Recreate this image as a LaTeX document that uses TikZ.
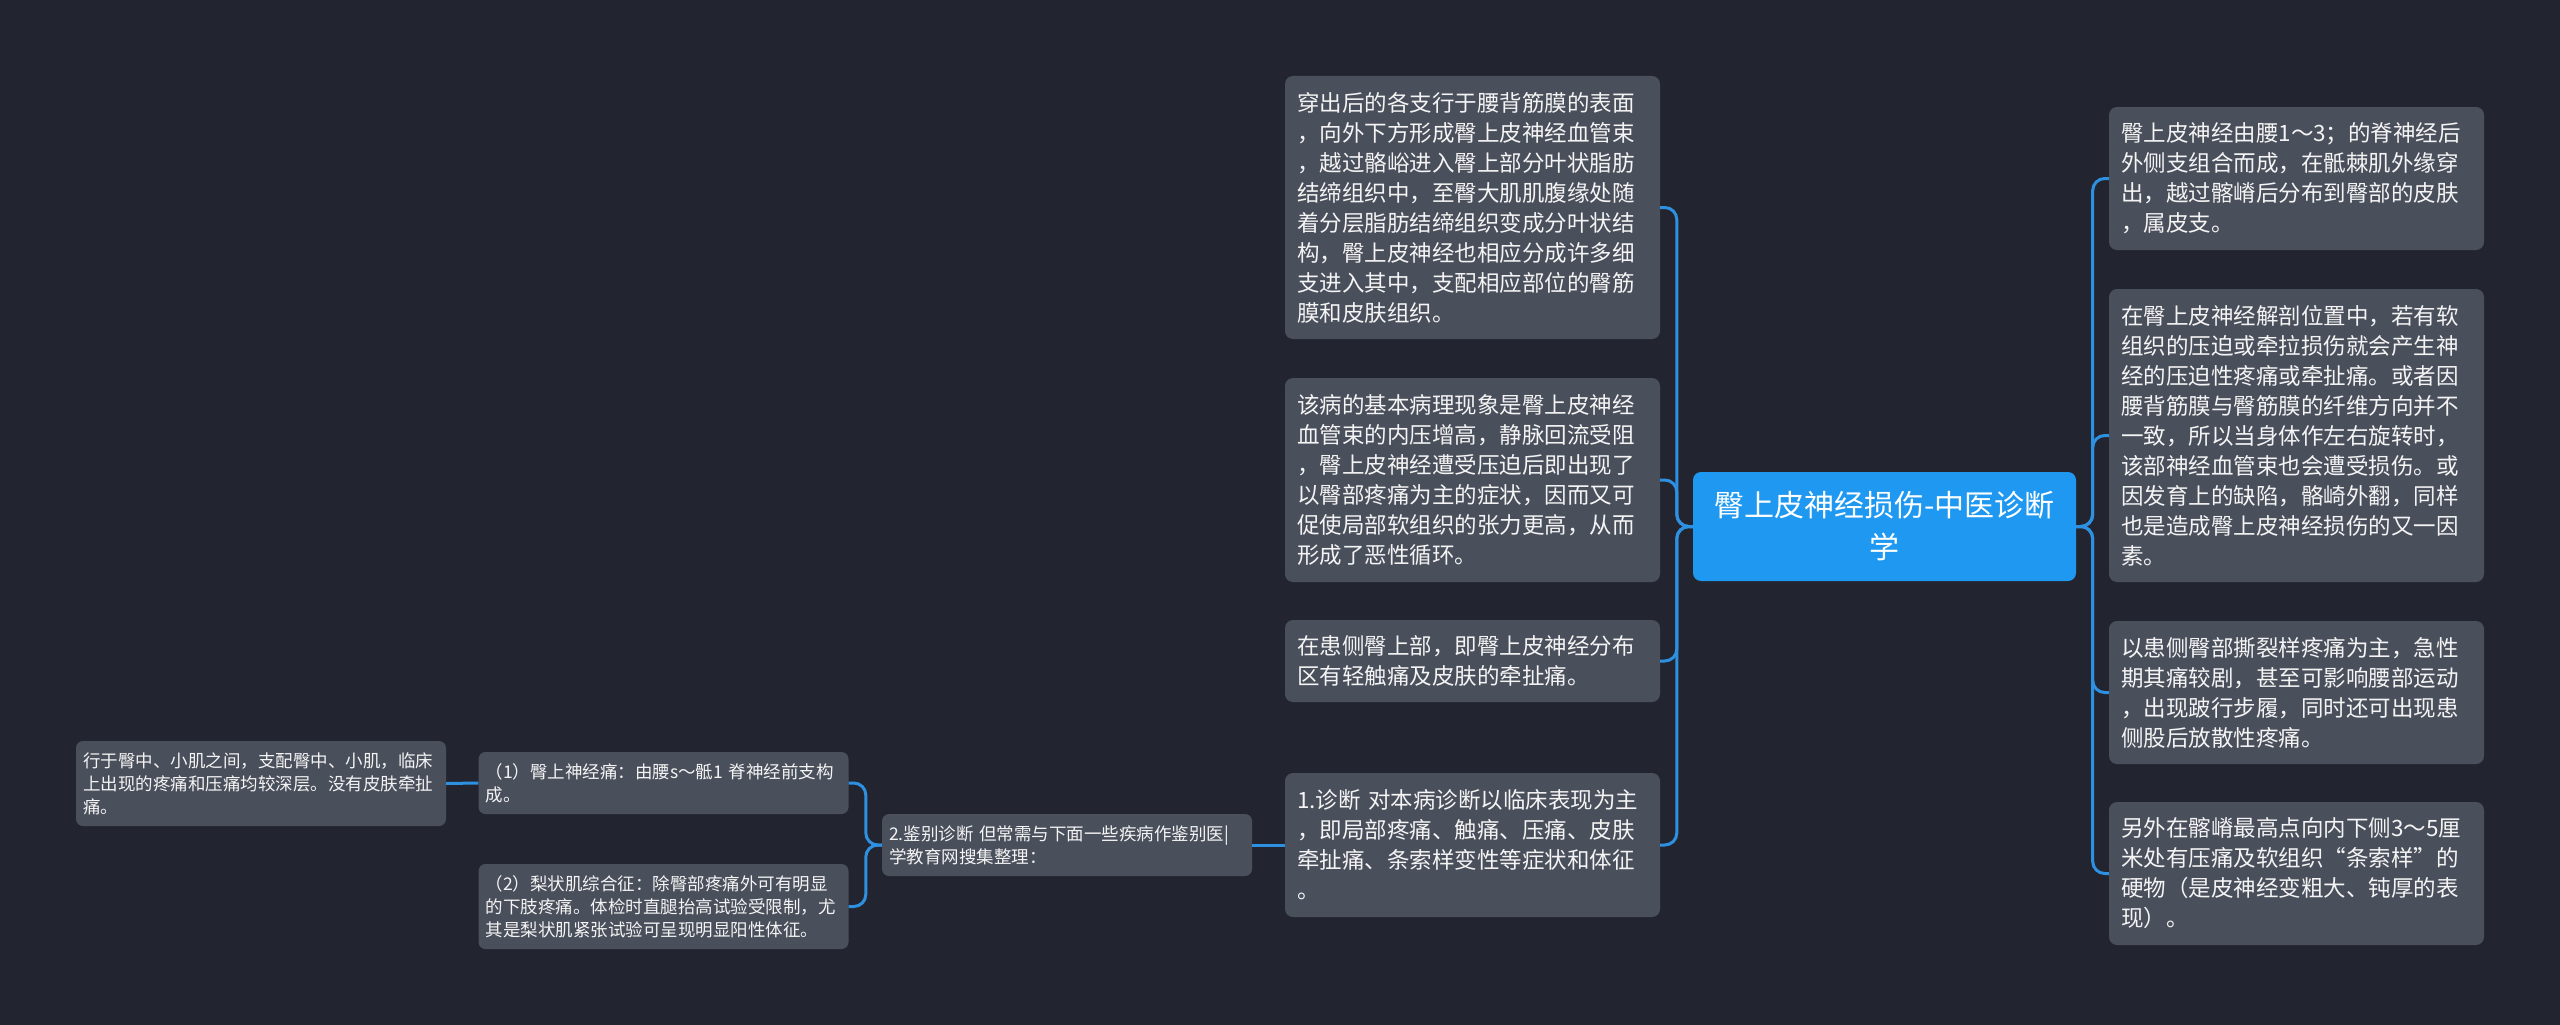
\documentclass[tikz,border=0pt]{standalone}
\usepackage{fontspec}
\setmainfont{Noto Sans CJK SC}
\definecolor{bgc}{HTML}{22252F}
\definecolor{boxc}{HTML}{4A4F5C}
\definecolor{rootc}{HTML}{1E98F0}
\definecolor{linec}{HTML}{2E90E0}
\definecolor{txtc}{HTML}{F4F4F4}
\begin{document}
\begin{tikzpicture}[x=1pt,y=-1pt,
  midbox/.style={fill=boxc, rounded corners=8, text=txtc, align=left,
    inner xsep=12, inner ysep=0, text width=351,
    font=\fontsize{22.5}{30}\selectfont},
  smallbox/.style={fill=boxc, rounded corners=7, text=txtc, align=left,
    inner xsep=7, inner ysep=0, text width=356,
    font=\fontsize{17.5}{23}\selectfont},
  rootbox/.style={fill=rootc, rounded corners=8, text=white, align=center,
    inner xsep=10, inner ysep=0, text width=363,
    font=\fontsize{30}{42}\selectfont},
  conn/.style={draw=linec, line width=3, rounded corners=12}]
\fill[bgc] (0,0) rectangle (2560,1025);
\useasboundingbox (0,0) rectangle (2560,1025);

% root
\node[rootbox, minimum height=109] (c) at (1884.5,526.5)
  {臀上皮神经损伤-中医诊断\\学};

% right column
\node[midbox, minimum height=143] (r1) at (2296.5,178.5)
  {臀上皮神经由腰1～3；的脊神经后\\外侧支组合而成，在骶棘肌外缘穿\\出，越过髂嵴后分布到臀部的皮肤\\，属皮支。};
\node[midbox, minimum height=293] (r2) at (2296.5,435.5)
  {在臀上皮神经解剖位置中，若有软\\组织的压迫或牵拉损伤就会产生神\\经的压迫性疼痛或牵扯痛。或者因\\腰背筋膜与臀筋膜的纤维方向并不\\一致，所以当身体作左右旋转时，\\该部神经血管束也会遭受损伤。或\\因发育上的缺陷，骼崎外翻，同样\\也是造成臀上皮神经损伤的又一因\\素。};
\node[midbox, minimum height=143] (r3) at (2296.5,692.5)
  {以患侧臀部撕裂样疼痛为主，急性\\期其痛较剧，甚至可影响腰部运动\\，出现跛行步履，同时还可出现患\\侧股后放散性疼痛。};
\node[midbox, minimum height=143] (r4) at (2296.5,873.5)
  {另外在髂嵴最高点向内下侧3～5厘\\米处有压痛及软组织“条索样”的\\硬物（是皮神经变粗大、钝厚的表\\现）。};

% left column
\node[midbox, minimum height=263] (l1) at (1472.5,207.5)
  {穿出后的各支行于腰背筋膜的表面\\，向外下方形成臀上皮神经血管束\\，越过骼峪进入臀上部分叶状脂肪\\结缔组织中，至臀大肌肌腹缘处随\\着分层脂肪结缔组织变成分叶状结\\构，臀上皮神经也相应分成许多细\\支进入其中，支配相应部位的臀筋\\膜和皮肤组织。};
\node[midbox, minimum height=204] (l2) at (1472.5,480)
  {该病的基本病理现象是臀上皮神经\\血管束的内压增高，静脉回流受阻\\，臀上皮神经遭受压迫后即出现了\\以臀部疼痛为主的症状，因而又可\\促使局部软组织的张力更高，从而\\形成了恶性循环。};
\node[midbox, minimum height=82] (l3) at (1472.5,661)
  {在患侧臀上部，即臀上皮神经分布\\区有轻触痛及皮肤的牵扯痛。};
\node[midbox, minimum height=144] (l4) at (1472.5,845)
  {1.诊断~对本病诊断以临床表现为主\\，即局部疼痛、触痛、压痛、皮肤\\牵扯痛、条索样变性等症状和体征\\。};

% differential diagnosis branch
\node[smallbox, minimum height=62] (j) at (1067,845)
  {2.鉴别诊断~但常需与下面一些疾病作鉴别医|\\学教育网搜集整理：};
\node[smallbox, minimum height=62] (c1) at (663.5,783)
  {（1）臀上神经痛：由腰s～骶1~脊神经前支构\\成。};
\node[smallbox, minimum height=85] (c2) at (663.5,906.5)
  {（2）梨状肌综合征：除臀部疼痛外可有明显\\的下肢疼痛。体检时直腿抬高试验受限制，尤\\其是梨状肌紧张试验可呈现明显阳性体征。};
\node[smallbox, minimum height=85] (g) at (261,783.5)
  {行于臀中、小肌之间，支配臀中、小肌，临床\\上出现的疼痛和压痛均较深层。没有皮肤牵扯\\痛。};

% connectors
\foreach \n in {r1,r2,r3,r4}
  \draw[conn] (c.east) -- ++(16.5,0) |- (\n.west);
\foreach \n in {l1,l2,l3,l4}
  \draw[conn] (c.west) -- ++(-16,0) |- (\n.east);
\draw[conn] (l4.west) -- (j.east);
\foreach \n in {c1,c2}
  \draw[conn] (j.west) -- ++(-16,0) |- (\n.east);
\draw[conn] (c1.west) -- (g.east);
\end{tikzpicture}
\end{document}
